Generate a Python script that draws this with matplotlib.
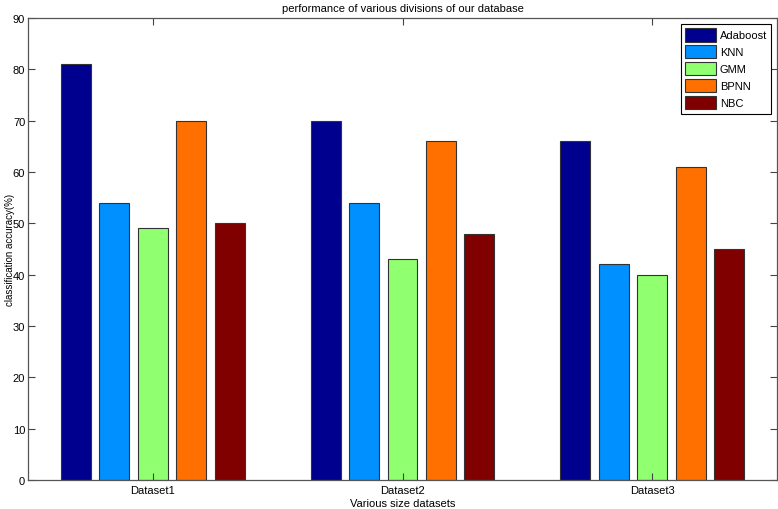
import matplotlib.pyplot as plt
import numpy as np

plt.rcParams['font.family'] = ['Liberation Sans Narrow', 'Liberation Sans', 'DejaVu Sans']

datasets = ['Dataset1', 'Dataset2', 'Dataset3']
methods = ['Adaboost', 'KNN', 'GMM', 'BPNN', 'NBC']
adaboost = [81, 70, 66]
knn = [54, 54, 42]
gmm = [49, 43, 40]
bpnn = [70, 66, 61]
nbc = [50, 48, 45]
colors = ['#00008F', '#0090FF', '#90FF70', '#FF7000', '#800000']

series = [adaboost, knn, gmm, bpnn, nbc]

fig = plt.figure(figsize=(7.78, 5.10), dpi=100)
ax = fig.add_axes([28 / 778, 29 / 510, 749 / 778, 462 / 510])

x = np.arange(1, len(datasets) + 1)
group_w = 5 / 6.5
step = group_w / 5
for i, (vals, name) in enumerate(zip(series, methods)):
    offs = (i - 2) * step
    ax.bar(x + offs, vals, width=step * 0.78, color=colors[i],
           edgecolor='#333333', linewidth=0.8, label=name)

ax.set_xlim(0.5, 3.5)
ax.set_ylim(0, 90)
ax.set_yticks(np.arange(0, 91, 10))
ax.set_xticks(x)
ax.set_xticklabels(datasets)
ax.tick_params(direction='in', top=True, right=True, labelsize=8, length=5,
               width=0.8, color='#444444')
ax.tick_params(axis='y', pad=2)
for s in ax.spines.values():
    s.set_linewidth(0.9)
    s.set_color('#555555')

ax.set_title('performance of various divisions of our database', fontsize=8, pad=5)
ax.set_xlabel('Various size datasets', fontsize=8, labelpad=2)
ax.set_ylabel('classification accuracy(%)', fontsize=7)
ax.yaxis.set_label_coords(-0.018, 0.5)

leg = ax.legend(loc='upper right', fontsize=8, fancybox=False, framealpha=1,
                edgecolor='black', handlelength=2.8, handleheight=1.5,
                handletextpad=0.3, labelspacing=0.3, borderpad=0.4,
                borderaxespad=0.5)
leg.get_frame().set_linewidth(0.8)

plt.savefig('out.png', dpi=100)
